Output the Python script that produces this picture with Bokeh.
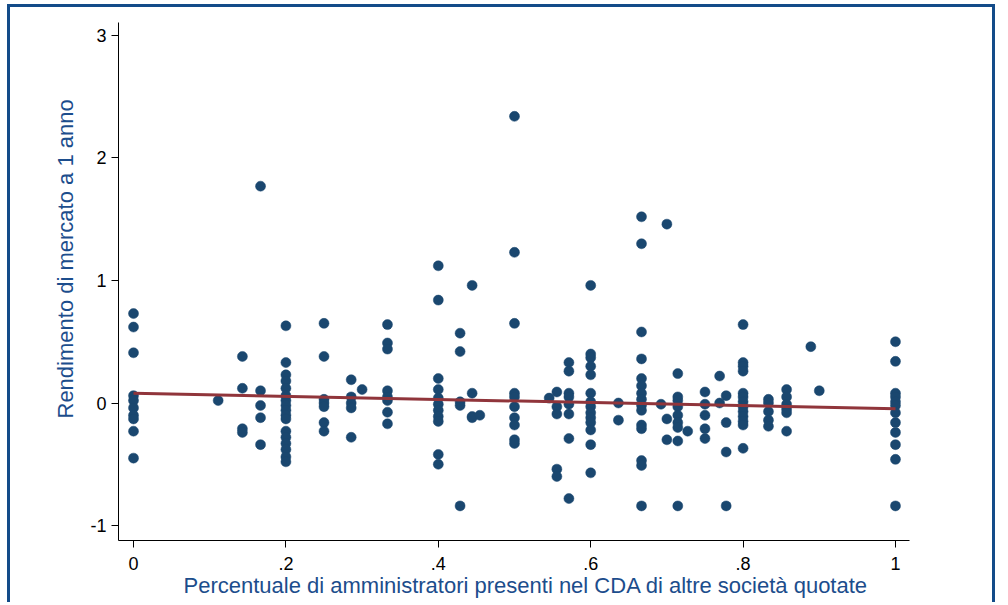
from bokeh.plotting import figure
from bokeh.models import Range1d, FixedTicker, ColumnDataSource, Title
from bokeh.embed import file_html
from bokeh.resources import INLINE

# Share of directors sitting on boards of other listed companies (x)
share = [
    0, 0, 0, 0, 0, 0, 0, 0, 0, 0,
    0.1111,
    0.1429, 0.1429, 0.1429, 0.1429,
    0.1667, 0.1667, 0.1667, 0.1667, 0.1667,
    0.2, 0.2, 0.2, 0.2, 0.2, 0.2, 0.2, 0.2, 0.2, 0.2, 0.2, 0.2, 0.2, 0.2, 0.2, 0.2, 0.2,
    0.25, 0.25, 0.25, 0.25, 0.25, 0.25, 0.25,
    0.2857, 0.2857, 0.2857, 0.2857, 0.2857,
    0.3,
    0.3333, 0.3333, 0.3333, 0.3333, 0.3333, 0.3333, 0.3333, 0.3333,
    0.4, 0.4, 0.4, 0.4, 0.4, 0.4, 0.4, 0.4, 0.4, 0.4, 0.4,
    0.4286, 0.4286, 0.4286, 0.4286, 0.4286,
    0.4444, 0.4444, 0.4444, 0.4444,
    0.4545,
    0.5, 0.5, 0.5, 0.5, 0.5, 0.5, 0.5, 0.5, 0.5, 0.5,
    0.5455,
    0.5556, 0.5556, 0.5556, 0.5556, 0.5556,
    0.5714, 0.5714, 0.5714, 0.5714, 0.5714, 0.5714, 0.5714, 0.5714,
    0.6, 0.6, 0.6, 0.6, 0.6, 0.6, 0.6, 0.6, 0.6, 0.6, 0.6, 0.6, 0.6, 0.6,
    0.6364, 0.6364,
    0.6667, 0.6667, 0.6667, 0.6667, 0.6667, 0.6667, 0.6667, 0.6667, 0.6667, 0.6667,
    0.6667, 0.6667, 0.6667, 0.6667, 0.6667,
    0.6923,
    0.7, 0.7, 0.7,
    0.7143, 0.7143, 0.7143, 0.7143, 0.7143, 0.7143, 0.7143, 0.7143, 0.7143,
    0.7273,
    0.75, 0.75, 0.75, 0.75, 0.75,
    0.7692, 0.7692,
    0.7778, 0.7778, 0.7778, 0.7778,
    0.8, 0.8, 0.8, 0.8, 0.8, 0.8, 0.8, 0.8, 0.8, 0.8, 0.8, 0.8, 0.8,
    0.8333, 0.8333, 0.8333, 0.8333, 0.8333,
    0.8571, 0.8571, 0.8571, 0.8571, 0.8571, 0.8571,
    0.8889,
    0.9,
    1, 1, 1, 1, 1, 1, 1, 1, 1, 1, 1, 1,
]

# One-year market return (y)
market_return = [
    0.73, 0.62, 0.41, 0.06, 0.02, -0.04, -0.10, -0.13, -0.23, -0.45,
    0.02,
    0.38, 0.12, -0.21, -0.24,
    1.77, 0.10, -0.02, -0.12, -0.34,
    0.63, 0.33, 0.23, 0.18, 0.12, 0.06, 0.02, -0.02, -0.06, -0.10, -0.13, -0.23, -0.28, -0.33, -0.38, -0.44, -0.48,
    0.65, 0.38, 0.03, 0.00, -0.03, -0.16, -0.23,
    0.19, 0.05, 0.00, -0.04, -0.28,
    0.11,
    0.64, 0.49, 0.44, 0.10, 0.05, 0.02, -0.075, -0.17,
    1.12, 0.84, 0.20, 0.11, 0.04, -0.01, -0.06, -0.11, -0.15, -0.42, -0.50,
    0.57, 0.42, 0.01, -0.02, -0.84,
    0.96, 0.08, -0.11, -0.12,
    -0.10,
    2.34, 1.23, 0.65, 0.08, 0.05, -0.03, -0.12, -0.18, -0.30, -0.33,
    0.04,
    0.09, -0.03, -0.09, -0.54, -0.60,
    0.33, 0.26, 0.08, 0.05, -0.01, -0.09, -0.29, -0.78,
    0.96, 0.40, 0.37, 0.30, 0.23, 0.08, 0.01, -0.03, -0.08, -0.12, -0.16, -0.22, -0.34, -0.57,
    0.00, -0.14,
    1.52, 1.30, 0.58, 0.36, 0.20, 0.14, 0.08, 0.03, -0.02, -0.06,
    -0.18, -0.21, -0.47, -0.51, -0.84,
    -0.01,
    1.46, -0.13, -0.30,
    0.24, 0.05, 0.02, -0.03, -0.10, -0.16, -0.20, -0.31, -0.84,
    -0.23,
    0.09, -0.01, -0.10, -0.21, -0.29,
    0.22, 0.00,
    0.06, -0.16, -0.40, -0.84,
    0.64, 0.33, 0.30, 0.26, 0.08, 0.05, 0.01, -0.03, -0.07, -0.11, -0.15, -0.18, -0.37,
    0.03, 0.00, -0.07, -0.14, -0.19,
    0.11, 0.05, -0.01, -0.05, -0.08, -0.23,
    0.46,
    0.10,
    0.50, 0.34, 0.08, 0.05, 0.01, -0.02, -0.08, -0.16, -0.24, -0.34, -0.46, -0.84,
]

# Fitted values (linear fit) read at the ends of the line
fit_x = [0, 1]
fit_y = [0.08, -0.047]

x_ticks = [0, 0.2, 0.4, 0.6, 0.8, 1]
x_tick_labels = ["0", ".2", ".4", ".6", ".8", "1"]
y_ticks = [-1, 0, 1, 2, 3]
y_tick_labels = ["-1", "0", "1", "2", "3"]

x_title = "Percentuale di amministratori presenti nel CDA di altre società quotate"
y_title = "Rendimento di mercato a 1 anno"

FONT = "Liberation Sans"
NAVY = "#1a476f"
MAROON = "#90353b"
TITLE_BLUE = "#1c4d8c"
FRAME_BLUE = "#134b89"

p = figure(
    width=988, height=598,
    x_range=Range1d(-0.0197, 1.0184),
    y_range=Range1d(-1.1224, 3.106),
    output_backend="svg", toolbar_location=None,
    min_border_left=108, min_border_right=89,
    min_border_top=15, min_border_bottom=65,
    background_fill_color="white", border_fill_color="white",
)
p.margin = (4, 0, 0, 7)
p.styles = {
    "border-left": f"3px solid {FRAME_BLUE}",
    "border-top": f"3px solid {FRAME_BLUE}",
    "border-right": f"3px solid {FRAME_BLUE}",
}
p.outline_line_color = None
p.xgrid.visible = False
p.ygrid.visible = False

src = ColumnDataSource(dict(x=share, y=market_return))
p.scatter("x", "y", source=src, size=10, fill_color=NAVY, line_color=NAVY, line_width=0.5)
p.line(fit_x, fit_y, line_color=MAROON, line_width=3)

for ax, ticks, labels in ((p.xaxis[0], x_ticks, x_tick_labels), (p.yaxis[0], y_ticks, y_tick_labels)):
    ax.ticker = FixedTicker(ticks=ticks)
    ax.major_label_overrides = {t: l for t, l in zip(ticks, labels)}
    ax.major_tick_out = 7
    ax.major_tick_in = 0
    ax.minor_tick_out = 0
    ax.minor_tick_in = 0
    ax.axis_line_color = "black"
    ax.major_tick_line_color = "black"
    ax.major_label_text_font = FONT
    ax.major_label_text_font_size = "18px"
    ax.major_label_text_color = "black"

p.xaxis.major_label_standoff = 9
p.yaxis.major_label_standoff = 5
p.yaxis.major_label_orientation = "horizontal"

# axis titles, placed where the reference's titles start
p.add_layout(Title(
    text=y_title, align="left", offset=122, standoff=20,
    text_font=FONT, text_font_size="22px", text_font_style="normal",
    text_color=TITLE_BLUE,
), "left")
p.add_layout(Title(
    text=x_title, align="left", offset=65, standoff=0, vertical_align="top",
    text_font=FONT, text_font_size="22px", text_font_style="normal",
    text_color=TITLE_BLUE,
), "below")

open("out.html", "w").write(file_html(p, INLINE))
